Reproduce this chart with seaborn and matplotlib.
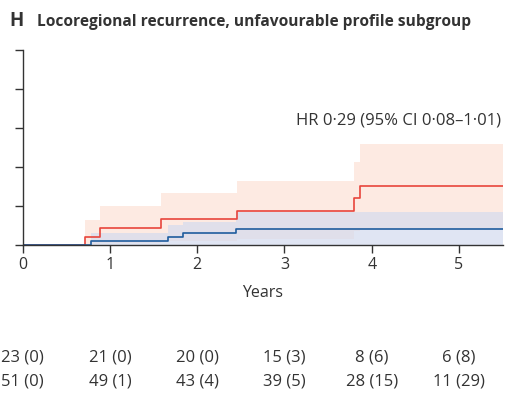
import pandas as pd
import seaborn as sns
import matplotlib.pyplot as plt
import matplotlib.transforms as mtransforms

# cumulative incidence (%), step-post
years_red = [0, 0.71, 0.89, 1.59, 2.46, 3.80, 3.87, 5.5]
inc_red = [0, 4.3, 8.7, 13.2, 17.6, 24.0, 30.4, 30.4]
red_upper = [0, 12.8, 20.0, 26.8, 32.8, 42.7, 51.8, 51.8]
red_lower = [0, 0.5, 1.0, 2.0, 3.0, 7.0, 8.4, 8.4]

years_blue = [0, 0.78, 1.66, 1.84, 2.45, 5.5]
inc_blue = [0, 2.0, 4.3, 6.3, 8.4, 8.4]
blue_upper = [0, 6.0, 10.0, 12.0, 17.0, 17.0]
blue_lower = [0, 0, 0, 0, 0, 0]

risk_years = [0, 1, 2, 3, 4, 5]
risk_red = ["23 (0)", "21 (0)", "20 (0)", "15 (3)", "8 (6)", "6 (8)"]
risk_blue = ["51 (0)", "49 (1)", "43 (4)", "39 (5)", "28 (15)", "11 (29)"]

red = "#e8453c"
blue = "#1f5d9e"
text_col = "#333333"

sns.set_style("ticks")
plt.rcParams['font.family'] = ['Open Sans', 'DejaVu Sans']

fig = plt.figure(figsize=(5.06, 3.95), dpi=100)
ax = fig.add_axes([0.045, 0.380, 0.9482, 0.493])

ax.fill_between(years_red, red_lower, red_upper, step="post",
                color="#fdeae2", linewidth=0)
ax.fill_between(years_blue, blue_lower, blue_upper, step="post",
                color="#d4dbee", alpha=0.7, linewidth=0)

df_red = pd.DataFrame({"years": years_red, "inc": inc_red})
df_blue = pd.DataFrame({"years": years_blue, "inc": inc_blue})
sns.lineplot(data=df_red, x="years", y="inc", ax=ax, color=red,
             drawstyle="steps-post", estimator=None, sort=False, linewidth=1.2)
sns.lineplot(data=df_blue, x="years", y="inc", ax=ax, color=blue,
             drawstyle="steps-post", estimator=None, sort=False, linewidth=1.2)

ax.set_xlim(0, 5.5)
ax.set_ylim(0, 100)
ax.set_xticks(risk_years)
ax.set_xticklabels([str(y) for y in risk_years], fontsize=11.5, color=text_col)
ax.set_yticks([0, 20, 40, 60, 80, 100])
ax.set_yticklabels([])
ax.tick_params(axis="both", length=6, width=1, color=text_col, pad=3)
ax.set_xlabel("Years", fontsize=11.5, color=text_col, labelpad=8)
ax.set_ylabel("")
sns.despine(ax=ax)
for s in ["left", "bottom"]:
    ax.spines[s].set_color(text_col)
    ax.spines[s].set_linewidth(1)

ax.text(5.48, 60, "HR 0\u00b729 (95% CI 0\u00b708\u20131\u00b701)", ha="right",
        va="bottom", fontsize=12, color=text_col)

fig.text(0.018, 0.947, "H", fontsize=13.5, fontweight="bold", color=text_col,
         va="center", ha="left")
fig.text(0.073, 0.945, "Locoregional recurrence, unfavourable profile subgroup",
         fontsize=11.2, fontweight="bold", color=text_col, va="center", ha="left")

trans = mtransforms.blended_transform_factory(ax.transData, fig.transFigure)
for x, a, b in zip(risk_years, risk_red, risk_blue):
    fig.text(x, 1 - 358 / 395, a, transform=trans, ha="center", va="center",
             fontsize=12, color=text_col)
    fig.text(x, 1 - 381 / 395, b, transform=trans, ha="center", va="center",
             fontsize=12, color=text_col)

fig.savefig("out.png", dpi=100)
